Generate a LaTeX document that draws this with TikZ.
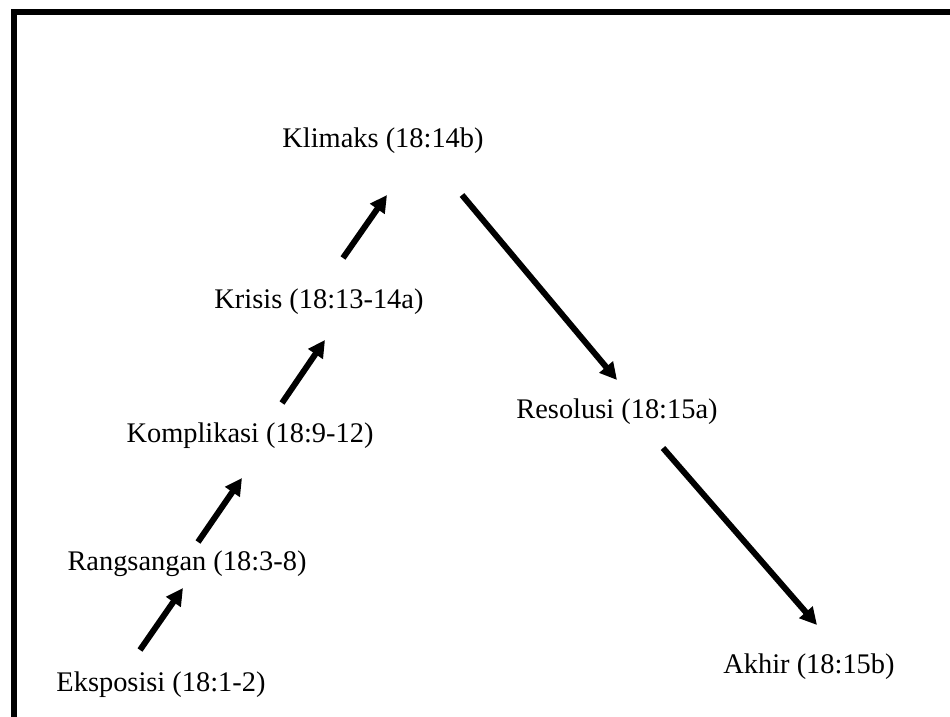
\documentclass[tikz,border=0pt]{standalone}
\usepackage{fontspec}
\setmainfont{Liberation Serif}
\usepackage{tikz}
\usetikzlibrary{arrows.meta,calc}

\tikzset{
    stage/.style={anchor=base, inner sep=0pt, font=\fontsize{28.4}{34}\selectfont},
    plotarrow/.style={line width=6pt, -{Triangle[length=17pt,width=17pt]}}
}

\begin{document}
\begin{tikzpicture}[x=1pt, y=-1pt]
        \useasboundingbox (0,0) rectangle (950,717);

        % Frame
        \draw[line width=6pt] (13.5,717) -- (13.5,12.5) -- (950,12.5);

        % Rising side
        \node[stage] (eks) at (161,691) {Eksposisi (18:1-2)};
        \node[stage] (rang) at (187,570) {Rangsangan (18:3-8)};
        \node[stage] (komp) at (250,442) {Komplikasi (18:9-12)};
        \node[stage] (kris) at (319,308) {Krisis (18:13-14a)};

        % Top
        \node[stage] (klim) at (383,147) {Klimaks (18:14b)};

        % Falling side
        \node[stage] (reso) at (617,418) {Resolusi (18:15a)};
        \node[stage] (akhir) at (809,673) {Akhir (18:15b)};

        % Arrows
        \draw[plotarrow] ($(eks.base)+(-21,-41)$) -- ($(rang.base)+(-4,18)$);
        \draw[plotarrow] ($(rang.base)+(11,-28)$) -- ($(komp.base)+(-8,36)$);
        \draw[plotarrow] ($(komp.base)+(32,-39)$) -- ($(kris.base)+(6,32)$);
        \draw[plotarrow] ($(kris.base)+(24,-50)$) -- ($(klim.base)+(4,48)$);
        \draw[plotarrow] ($(klim.base)+(79,48)$) -- ($(reso.base)+(0,-38)$);
        \draw[plotarrow] ($(reso.base)+(46,30)$) -- ($(akhir.base)+(8,-48)$);
    \end{tikzpicture}
\end{document}
